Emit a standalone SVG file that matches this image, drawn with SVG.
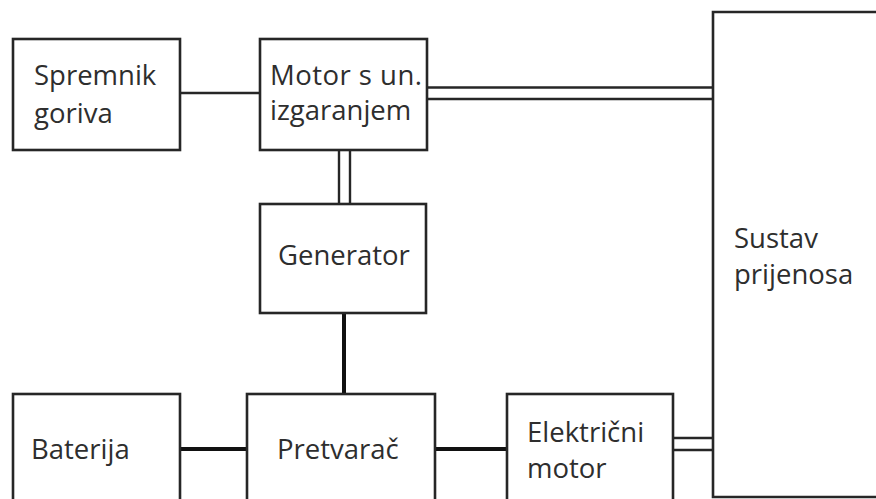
<svg xmlns="http://www.w3.org/2000/svg" width="876" height="499" viewBox="0 0 876 499">
<style>
.box{fill:#fff;stroke:#262626;stroke-width:2.6}
.t{font-family:"Open Sans","Noto Sans","Liberation Sans",sans-serif;font-size:27.5px;fill:#2e2e2e}
.thin{stroke:#262626;stroke-width:2.4;fill:none}
.thick{stroke:#111;stroke-width:4;fill:none}
</style>
<rect width="876" height="499" fill="#fff"/>
<g id="connectors">
<line class="thin" x1="180" y1="93" x2="260" y2="93"/>
<line class="thin" x1="427" y1="87.5" x2="713" y2="87.5"/>
<line class="thin" x1="427" y1="99" x2="713" y2="99"/>
<line class="thin" x1="339" y1="150" x2="339" y2="204"/>
<line class="thin" x1="350" y1="150" x2="350" y2="204"/>
<line class="thick" x1="344" y1="313" x2="344" y2="394"/>
<line class="thick" x1="180" y1="449" x2="247" y2="449"/>
<line class="thick" x1="435" y1="449" x2="507" y2="449"/>
<line class="thin" x1="673" y1="438" x2="715" y2="438"/>
<line class="thin" x1="673" y1="450" x2="715" y2="450"/>
</g>
<g id="spremnik">
<rect class="box" x="13" y="39" width="167" height="111"/>
<text class="t" x="34" y="85">Spremnik</text>
<text class="t" x="34" y="123">goriva</text>
</g>
<g id="motor">
<rect class="box" x="260" y="39" width="167" height="111"/>
<text class="t" x="270" y="85" textLength="152" lengthAdjust="spacing">Motor s un.</text>
<text class="t" x="270" y="120">izgaranjem</text>
</g>
<g id="sustav">
<path class="box" d="M880 12 H713 V497 H880"/>
<text class="t" x="734" y="248">Sustav</text>
<text class="t" x="734" y="284">prijenosa</text>
</g>
<g id="generator">
<rect class="box" x="260" y="204" width="166" height="109"/>
<text class="t" x="278" y="265">Generator</text>
</g>
<g id="baterija">
<rect class="box" x="13" y="394" width="167" height="120"/>
<text class="t" x="31" y="459">Baterija</text>
</g>
<g id="pretvarac">
<rect class="box" x="247" y="394" width="188" height="120"/>
<text class="t" x="277" y="459">Pretvarač</text>
</g>
<g id="elektricni">
<rect class="box" x="507" y="394" width="166" height="120"/>
<text class="t" x="527" y="442">Električni</text>
<text class="t" x="527" y="478">motor</text>
</g>
</svg>
